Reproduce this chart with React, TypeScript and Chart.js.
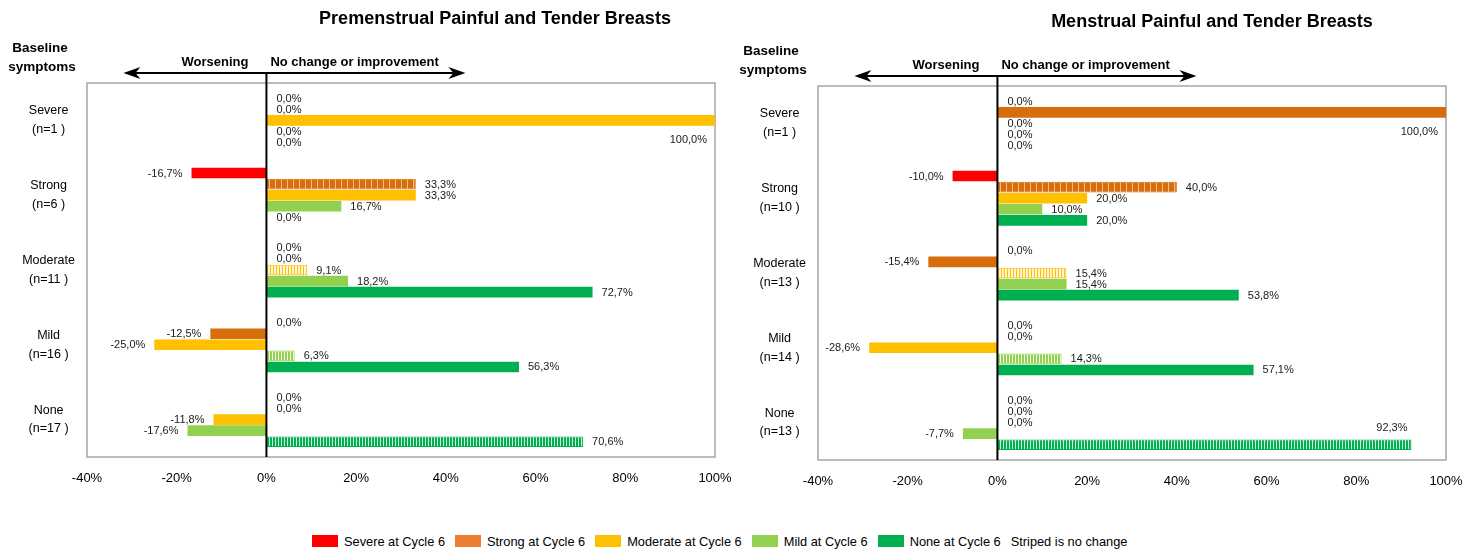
import React, { useEffect, useRef } from 'react';
import { Chart, registerables } from 'chart.js';

Chart.register(...registerables);

const FONT = '"Liberation Sans", Arial, Helvetica, sans-serif';

// ---- shared series / styling ----
const seriesNames = ['Severe at Cycle 6', 'Strong at Cycle 6', 'Moderate at Cycle 6', 'Mild at Cycle 6', 'None at Cycle 6'];
const barColors = ['#FF0000', '#D86D0C', '#FFC000', '#92D050', '#00B050'];
const legendColors = ['#FF0000', '#ED7D31', '#FFC000', '#92D050', '#00B050'];
const stripeNote = 'Striped is no change';
const xTicks = [-40, -20, 0, 20, 40, 60, 80, 100];

// ---- Premenstrual ----
const preTitle = 'Premenstrual Painful and Tender Breasts';
const preCategories = [['Severe', '(n=1 )'], ['Strong', '(n=6 )'], ['Moderate', '(n=11 )'], ['Mild', '(n=16 )'], ['None', '(n=17 )']];
const preSevere = [0, -16.7, 0, 0, 0];
const preStrong = [0, 33.3, 0, -12.5, 0];
const preModerate = [100, 33.3, 9.1, -25.0, -11.8];
const preMild = [0, 16.7, 18.2, 6.3, -17.6];
const preNone = [0, 0, 72.7, 56.3, 70.6];

// ---- Menstrual ----
const menTitle = 'Menstrual Painful and Tender Breasts';
const menCategories = [['Severe', '(n=1 )'], ['Strong', '(n=10 )'], ['Moderate', '(n=13 )'], ['Mild', '(n=14 )'], ['None', '(n=13 )']];
const menSevere = [0, -10.0, 0, 0, 0];
const menStrong = [100, 40.0, -15.4, 0, 0];
const menModerate = [0, 20.0, 15.4, -28.6, 0];
const menMild = [0, 10.0, 15.4, 14.3, -7.7];
const menNone = [0, 20.0, 53.8, 57.1, 92.3];

// stripe cell layouts ('c' = series colour)
const stripeCells: string[][] = [
  ['c', 'c', '#ffffff'],
  ['c', 'c', 'c', 'c', 'c', '#F2BE8C'],
  ['c', '#FFF6DA', '#FFF6DA'],
  ['c', 'c', '#F2FAEA'],
  ['c', 'c', '#CFF0DC'],
];

function makePattern(color: string, cells: string[]) {
  const c = document.createElement('canvas');
  c.width = cells.length;
  c.height = 4;
  const g = c.getContext('2d')!;
  cells.forEach((cell, i) => {
    g.fillStyle = cell === 'c' ? color : cell;
    g.fillRect(i, 0, 1, 4);
  });
  return g.createPattern(c, 'repeat')!;
}

function fmt(v: number) {
  return v.toFixed(1).replace('.', ',') + '%';
}

function decorPlugin(title: string, titleX: number) {
  return {
    id: 'decor',
    beforeDatasetsDraw(chart: any) {
      const { ctx, chartArea: a } = chart;
      ctx.save();
      ctx.strokeStyle = '#A6A6A6';
      ctx.lineWidth = 1.5;
      ctx.strokeRect(a.left, a.top, a.right - a.left, a.bottom - a.top);
      ctx.restore();
    },
    afterDatasetsDraw(chart: any) {
      const { ctx, chartArea: a, scales } = chart;
      const x0 = scales.x.getPixelForValue(0);
      const arrowY = 73;
      ctx.save();

      // data labels
      ctx.font = `11px ${FONT}`;
      ctx.fillStyle = '#1a1a1a';
      ctx.textBaseline = 'middle';
      chart.data.datasets.forEach((ds: any, di: number) => {
        const meta = chart.getDatasetMeta(di);
        meta.data.forEach((el: any, i: number) => {
          const v = ds.data[i] as number;
          const txt = fmt(v);
          const w = ctx.measureText(txt).width;
          let x = el.x;
          let y = el.y;
          let align: CanvasTextAlign = 'left';
          if (v < 0) {
            x = el.x - 9;
            align = 'right';
          } else if (v === 0) {
            x = el.x + 10;
          } else if (el.x + 9 + w > a.right) {
            align = 'right';
            if (v >= 100) {
              x = el.x - 8;
              y = el.y + 19;
            } else {
              x = el.x - 4;
              y = el.y - 17;
            }
          } else {
            x = el.x + 9;
          }
          ctx.textAlign = align;
          ctx.fillText(txt, x, y + 0.5);
        });
      });

      // zero line
      ctx.strokeStyle = '#000';
      ctx.lineWidth = 2;
      ctx.beginPath();
      ctx.moveTo(x0, arrowY);
      ctx.lineTo(x0, a.bottom);
      ctx.stroke();

      // double arrow
      const l = x0 - 143;
      const r = x0 + 199;
      ctx.lineWidth = 2;
      ctx.beginPath();
      ctx.moveTo(l + 8, arrowY);
      ctx.lineTo(r - 8, arrowY);
      ctx.stroke();
      ctx.fillStyle = '#000';
      ctx.beginPath();
      ctx.moveTo(l, arrowY);
      ctx.lineTo(l + 17, arrowY - 6);
      ctx.lineTo(l + 12, arrowY);
      ctx.lineTo(l + 17, arrowY + 6);
      ctx.closePath();
      ctx.fill();
      ctx.beginPath();
      ctx.moveTo(r, arrowY);
      ctx.lineTo(r - 17, arrowY - 6);
      ctx.lineTo(r - 12, arrowY);
      ctx.lineTo(r - 17, arrowY + 6);
      ctx.closePath();
      ctx.fill();

      // arrow texts
      ctx.font = `bold 13px ${FONT}`;
      ctx.textBaseline = 'middle';
      ctx.textAlign = 'right';
      ctx.fillText('Worsening', x0 - 18, 62);
      ctx.textAlign = 'left';
      ctx.fillText('No change or improvement', x0 + 4, 62);

      // baseline symptoms
      ctx.font = `bold 13.5px ${FONT}`;
      ctx.textAlign = 'center';
      ctx.fillText('Baseline', 40, 48);
      ctx.fillText('symptoms', 42, 67);

      // title
      ctx.font = `bold 18px ${FONT}`;
      ctx.textAlign = 'center';
      ctx.fillText(title, titleX, 19);

      ctx.restore();
    },
  };
}

function buildChart(canvas: HTMLCanvasElement, title: string, titleX: number, categories: string[][], series: number[][]) {
  const patterns = barColors.map((c, i) => makePattern(c, stripeCells[i]));
  const datasets = series.map((data, di) => ({
    label: seriesNames[di],
    data,
    backgroundColor: (ctx: any) => (ctx.dataIndex === di ? patterns[di] : barColors[di]),
    borderColor: barColors[di],
    borderWidth: (ctx: any) => (ctx.dataIndex === di && data[ctx.dataIndex] !== 0 ? 1 : 0),
    borderSkipped: false,
    categoryPercentage: 0.74,
    barPercentage: 0.96,
  }));
  const options: any = {
    indexAxis: 'y',
    responsive: false,
    animation: false,
    layout: { padding: { top: 83, right: 16, bottom: 3, left: 0 } },
    plugins: {
      legend: { display: false },
      tooltip: { enabled: false },
      title: { display: false },
    },
    scales: {
      x: {
        type: 'linear',
        min: -40,
        max: 100,
        afterBuildTicks: (s: any) => {
          s.ticks = xTicks.map((v) => ({ value: v }));
        },
        ticks: {
          callback: (v: any) => `${v}%`,
          font: { family: FONT, size: 13 },
          color: '#000',
          padding: 14,
          maxRotation: 0,
          autoSkip: false,
        },
        grid: { display: false, drawTicks: false },
        border: { display: false },
        afterFit: (s: any) => {
          s.height = 40;
          s.paddingLeft = 0;
          s.paddingRight = 0;
        },
      },
      y: {
        type: 'category',
        ticks: {
          font: { family: FONT, size: 12.5, lineHeight: 1.5 },
          color: '#000',
          crossAlign: 'center',
          padding: 12,
        },
        grid: { display: false, drawTicks: false },
        border: { display: false },
        afterFit: (s: any) => {
          s.width = 87;
        },
      },
    },
  };
  return new Chart(canvas, {
    type: 'bar',
    data: { labels: categories, datasets },
    options,
    plugins: [decorPlugin(title, titleX)],
  } as any);
}

function PanelChart(props: { title: string; titleX: number; categories: string[][]; series: number[][]; left: number; top: number }) {
  const ref = useRef<HTMLCanvasElement | null>(null);
  useEffect(() => {
    if (!ref.current) return;
    const chart = buildChart(ref.current, props.title, props.titleX, props.categories, props.series);
    return () => chart.destroy();
  }, []);
  return (
    <canvas
      ref={ref}
      width={731}
      height={500}
      style={{ position: 'absolute', left: props.left, top: props.top, width: 731, height: 500, display: 'block' }}
    />
  );
}

export default function App() {
  return (
    <div style={{ position: 'absolute', left: 0, top: 0, width: 1462, height: 553, background: '#fff', overflow: 'hidden' }}>
      <PanelChart
        title={preTitle}
        titleX={495}
        categories={preCategories}
        series={[preSevere, preStrong, preModerate, preMild, preNone]}
        left={0}
        top={0}
      />
      <PanelChart
        title={menTitle}
        titleX={481}
        categories={menCategories}
        series={[menSevere, menStrong, menModerate, menMild, menNone]}
        left={731}
        top={3}
      />
      <div
        style={{
          position: 'absolute',
          left: 312,
          top: 533,
          height: 16,
          display: 'flex',
          alignItems: 'center',
          fontFamily: FONT,
          fontSize: 12.8,
          color: '#000',
          whiteSpace: 'nowrap',
        }}
      >
        {seriesNames.map((n, i) => (
          <React.Fragment key={n}>
            <span style={{ display: 'inline-block', width: 26, height: 12, background: legendColors[i], marginRight: 6 }} />
            <span style={{ marginRight: 10 }}>{n}</span>
          </React.Fragment>
        ))}
        <span>{stripeNote}</span>
      </div>
    </div>
  );
}
